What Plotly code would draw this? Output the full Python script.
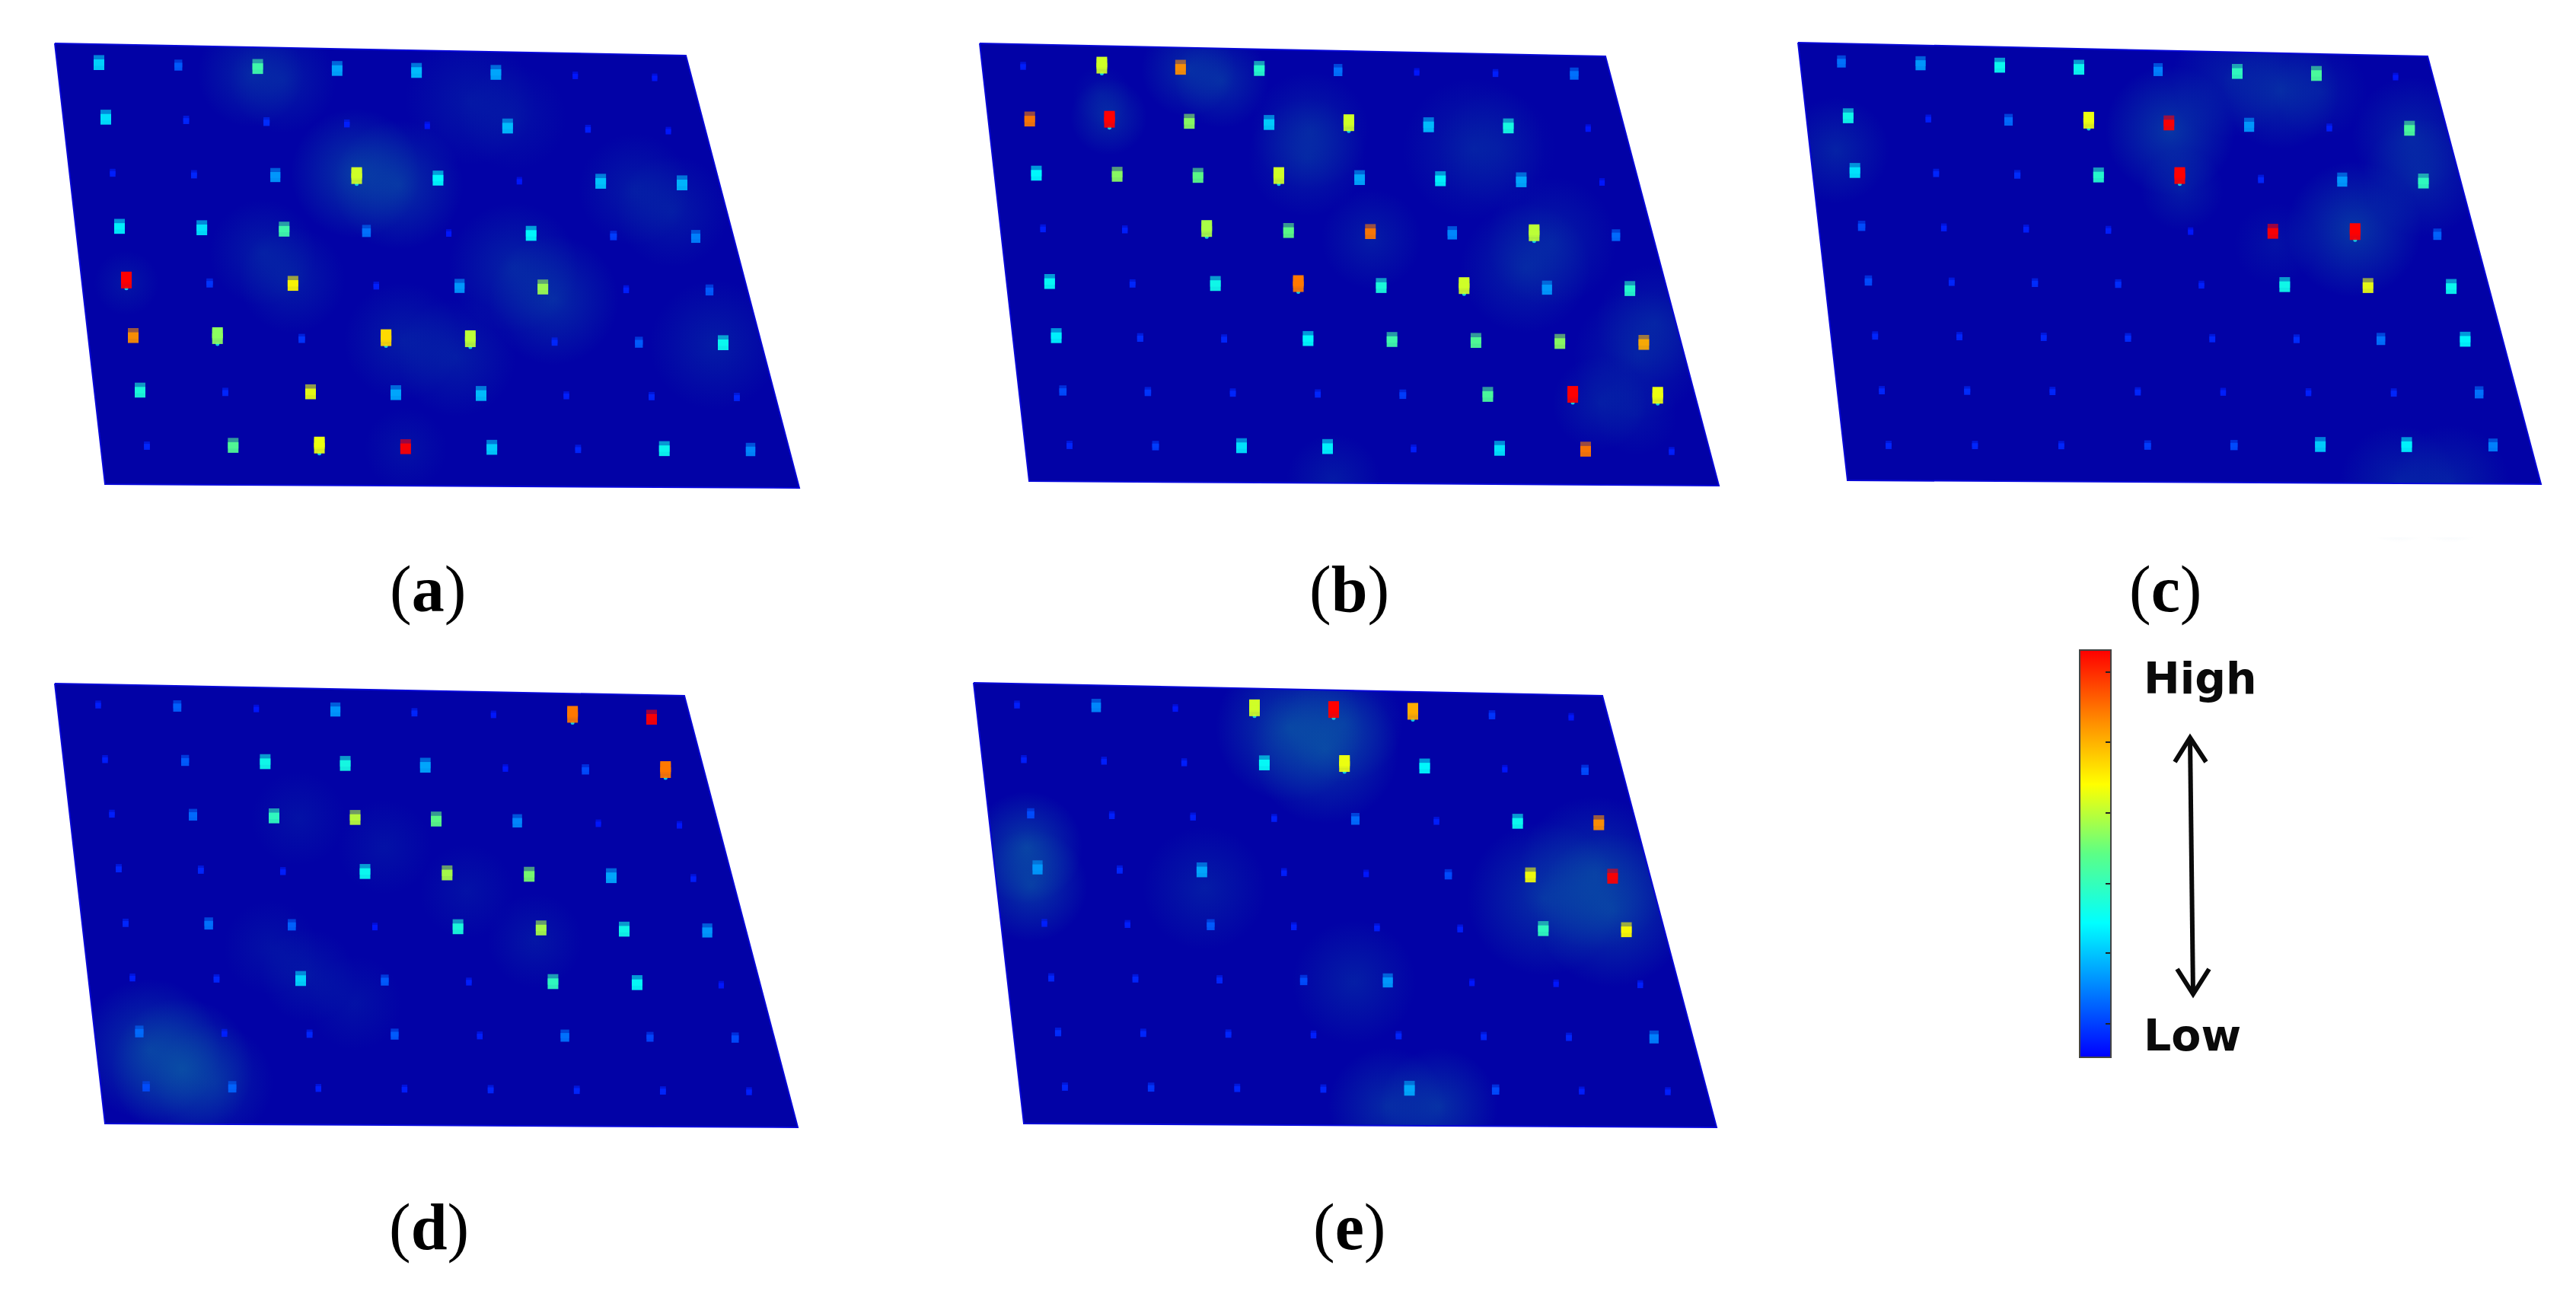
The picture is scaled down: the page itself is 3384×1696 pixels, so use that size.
"""
Five sensor-grid heat maps drawn as tilted planes, with a shared colour bar.
"""

import plotly.graph_objects as go

WIDTH = 3384
HEIGHT = 1696

# sensor readings, 8 rows of 8 (0 = low, 1 = high)
values_a = [
    [.28, .12, .45, .22, .25, .22, .03, .03],
    [.30, .05, .06, .04, .03, .25, .04, .03],
    [.04, .05, .20, .62, .33, .03, .26, .24],
    [.32, .30, .45, .15, .03, .33, .08, .17],
    [1.0, .07, .68, .04, .20, .57, .04, .12],
    [.82, .55, .07, .72, .60, .05, .12, .35],
    [.38, .05, .65, .22, .25, .04, .05, .05],
    [.05, .48, .65, 1.0, .27, .05, .35, .18],
]
values_b = [
    [.04, .62, .82, .40, .15, .03, .04, .15],
    [.85, 1.0, .55, .27, .62, .25, .37, .03],
    [.33, .55, .50, .62, .22, .32, .22, .03],
    [.04, .04, .58, .50, .85, .18, .60, .14],
    [.34, .05, .36, .85, .38, .62, .20, .40],
    [.32, .06, .05, .33, .45, .48, .55, .78],
    [.10, .07, .05, .05, .08, .47, 1.0, .65],
    [.05, .08, .30, .32, .04, .30, .85, .04],
]
values_c = [
    [.15, .20, .35, .35, .17, .42, .47, .03],
    [.36, .04, .14, .65, 1.0, .20, .04, .47],
    [.30, .05, .06, .40, 1.0, .05, .20, .42],
    [.10, .04, .04, .04, .03, 1.0, 1.0, .13],
    [.10, .05, .06, .06, .04, .36, .65, .35],
    [.05, .05, .05, .06, .05, .06, .15, .33],
    [.05, .06, .05, .05, .04, .04, .05, .15],
    [.05, .05, .05, .08, .10, .27, .32, .17],
]
values_d = [
    [.04, .13, .03, .20, .05, .03, .85, 1.0],
    [.04, .12, .36, .37, .22, .03, .10, .85],
    [.04, .14, .42, .60, .50, .18, .03, .03],
    [.05, .05, .04, .35, .58, .53, .22, .04],
    [.05, .15, .13, .03, .38, .58, .36, .20],
    [.04, .05, .28, .12, .04, .42, .34, .03],
    [.14, .04, .05, .12, .04, .15, .09, .10],
    [.10, .13, .04, .04, .05, .05, .05, .04],
]
values_e = [
    [.04, .18, .03, .62, 1.0, .78, .07, .03],
    [.04, .04, .04, .34, .65, .33, .03, .10],
    [.10, .04, .04, .04, .14, .04, .35, .82],
    [.20, .05, .22, .04, .03, .10, .66, 1.0],
    [.04, .04, .12, .04, .04, .04, .42, .67],
    [.05, .05, .05, .10, .20, .03, .03, .04],
    [.06, .05, .05, .04, .05, .05, .05, .17],
    [.05, .07, .05, .05, .22, .10, .04, .04],
]

# spots that stand taller, with a cyan foot: column, row
tall_a = [(0, 4), (3, 2), (3, 5), (4, 5), (1, 5), (2, 7)]
tall_b = [(1, 0), (1, 1), (4, 1), (3, 2), (2, 3), (6, 3), (3, 4), (5, 4), (6, 6), (7, 6)]
tall_c = [(3, 1), (4, 2), (6, 3)]
tall_d = [(6, 0), (7, 1)]
tall_e = [(3, 0), (4, 0), (5, 0), (4, 1)]

# soft background patches: column, row, diameter, strength
glows_a = [
    (1.9, .1, 90, .25), (2.3, .2, 90, .2), (4.6, .5, 110, .15), (5.1, .8, 90, .12),
    (3.0, 1.9, 110, .4), (3.5, 2.1, 110, .35), (6.4, 2.1, 95, .18), (6.8, 2.5, 95, .18),
    (1.7, 3.4, 90, .2), (2.0, 3.9, 90, .2), (4.7, 3.6, 110, .25), (5.1, 4.2, 110, .3),
    (0, 4, 55, .15), (3.2, 5, 100, .2), (3.8, 5.3, 100, .2), (6.9, 5, 110, .2), (3, 7, 70, .12),
]
glows_b = [
    (2.1, 0, 80, .3), (2.5, .2, 80, .3), (1, .9, 65, .3), (.95, .5, 50, .12),
    (3.5, 1.1, 100, .22), (3.4, 1.6, 100, .22), (5.5, 1.4, 120, .2), (5.8, 1.4, 100, .1),
    (4, 3.1, 85, .2), (5.8, 3.6, 110, .25), (6.2, 3.1, 110, .2), (6.9, 5.2, 110, .2),
    (7.2, 4.6, 100, .2), (6.3, 6.1, 80, .2), (6.7, 6.3, 70, .12), (3, 7.6, 80, .18),
]
glows_c = [
    (4.9, .1, 100, .2), (5.5, .3, 100, .3), (6, .3, 80, .15), (4, 1.1, 110, .4),
    (4, 2.2, 70, .2), (7, 1.1, 100, .25), (7, 1.9, 100, .25), (6, 2.9, 115, .4),
    (5, 3.2, 70, .12), (-.2, 1.6, 90, .25), (5.8, 7.7, 100, .22), (6.4, 7.7, 100, .22),
]
glows_d = [
    (2.3, 2, 80, .12), (3.3, 2.5, 80, .12), (4.2, 3.3, 80, .12), (4.9, 4.2, 80, .15),
    (1.7, 4.4, 80, .12), (2.1, 4.9, 80, .15), (2.6, 5.4, 80, .12),
    (.1, 6.3, 120, .4), (.45, 6.65, 120, .45), (.8, 6.9, 100, .25),
]
glows_e = [
    (3.4, .3, 125, .45), (3.8, .7, 125, .4), (4.1, .2, 100, .3), (-.1, 2.6, 95, .45),
    (-.1, 3.3, 95, .4), (2, 3.3, 105, .2), (6.1, 3.4, 130, .35), (6.8, 2.9, 130, .35),
    (6.9, 3.6, 130, .4), (3.6, 5, 105, .22), (3.7, 7.3, 100, .3), (4.3, 7.3, 100, .35),
]

panel_labels = ["a", "b", "c", "d", "e"]
bar_ticks = [.083, .257, .427, .6, .773, .946]

JET = [
    [0, "#0000ff"], [.33, "#00ffff"], [.5, "#5cff86"],
    [.67, "#ffff00"], [.82, "#ff9000"], [1, "#ff0000"],
]
PLANE_BLUE = "#0202a6"
GLOW_RGB = "13,110,165"

# plane outline (TL, TR, BR, BL) and outer sensors (TL, TR, BL, BR) on the page
panels = [
    dict(values=values_a, glows=glows_a, tall=tall_a, label=(562, 774),
         plane=[(72, 57), (901, 73), (1050, 641), (138, 636)],
         grid=[(130, 85), (860, 103), (193, 587), (986, 593)]),
    dict(values=values_b, glows=glows_b, tall=tall_b, label=(1772, 774),
         plane=[(1287, 57), (2109, 74), (2258, 638), (1352, 632)],
         grid=[(1344, 88), (2068, 99), (1405, 586), (2196, 594)]),
    dict(values=values_c, glows=glows_c, tall=tall_c, label=(2844, 774),
         plane=[(2362, 56), (3189, 74), (3338, 636), (2427, 631)],
         grid=[(2419, 83), (3147, 102), (2481, 586), (3275, 587)]),
    dict(values=values_d, glows=glows_d, tall=tall_d, label=(563, 1612),
         plane=[(72, 898), (899, 914), (1048, 1481), (138, 1476)],
         grid=[(129, 927), (856, 945), (192, 1429), (984, 1435)]),
    dict(values=values_e, glows=glows_e, tall=tall_e, label=(1772, 1612),
         plane=[(1279, 897), (2105, 914), (2255, 1481), (1345, 1476)],
         grid=[(1336, 927), (2064, 943), (1399, 1429), (2191, 1435)]),
]


def grid_to_page(grid, col, row):
    # bilinear position between the four outer sensors
    (x0, y0), (x1, y1), (x2, y2), (x3, y3) = grid
    u, v = col / 7, row / 7
    top_x, top_y = x0 + (x1 - x0) * u, y0 + (y1 - y0) * u
    bot_x, bot_y = x2 + (x3 - x2) * u, y2 + (y3 - y2) * u
    return top_x + (bot_x - top_x) * v, top_y + (bot_y - top_y) * v


def spot_size(value):
    return max(7, min(14, 6 + value * 36))


def add_panel(fig, panel, with_scale):
    plane = panel["plane"]
    xs = [p[0] for p in plane]
    ys = [p[1] for p in plane]
    fig.add_trace(go.Scatter(
        x=xs + xs[:1], y=ys + ys[:1], mode="lines", fill="toself",
        fillcolor=PLANE_BLUE, line=dict(color=PLANE_BLUE, width=1), hoverinfo="skip",
    ))

    # radial gradient colour is the centre, marker colour the rim
    glow_pos = [grid_to_page(panel["grid"], g[0], g[1]) for g in panel["glows"]]
    fig.add_trace(go.Scatter(
        x=[p[0] for p in glow_pos], y=[p[1] for p in glow_pos], mode="markers",
        marker=dict(
            size=[g[2] * 1.55 for g in panel["glows"]],
            color=f"rgba({GLOW_RGB},0)",
            gradient=dict(
                type="radial",
                color=[f"rgba({GLOW_RGB},{min(g[3] * 1.7, 1):.2f})" for g in panel["glows"]],
            ),
            line=dict(width=0),
        ),
        hoverinfo="skip",
    ))

    # white surround with a keyhole, so glows stop at the plane edge
    pad = 70
    left, right = min(xs) - pad, max(xs) + pad
    top, bottom = min(ys) - pad, max(ys) + pad
    fig.add_trace(go.Scatter(
        x=[left, right, right, left, left, xs[0], xs[3], xs[2], xs[1], xs[0], left],
        y=[top, top, bottom, bottom, top, ys[0], ys[3], ys[2], ys[1], ys[0], top],
        mode="lines", fill="toself", fillcolor="white",
        line=dict(width=0), hoverinfo="skip",
    ))
    fig.add_trace(go.Scatter(
        x=xs + xs[:1], y=ys + ys[:1], mode="lines",
        line=dict(color="#0808d8", width=2), hoverinfo="skip",
    ))

    xs_s, ys_s, vals = [], [], []
    for r, row in enumerate(panel["values"]):
        for c, v in enumerate(row):
            px, py = grid_to_page(panel["grid"], c, r)
            xs_s.append(px)
            ys_s.append(py)
            vals.append(v)
    sizes = [spot_size(v) for v in vals]

    # spots stand a little above the plane: darker top, bright front
    fig.add_trace(go.Scatter(
        x=xs_s, y=[y - s * .4 for y, s in zip(ys_s, sizes)], mode="markers",
        marker=dict(symbol="square", size=sizes, color=vals, colorscale=JET, cmin=0, cmax=1,
                    opacity=.6, line=dict(width=0)),
        hoverinfo="skip",
    ))

    # the tallest spots get an extra block on top and a small cyan foot
    tall_pos = [grid_to_page(panel["grid"], c, r) for c, r in panel["tall"]]
    tall_vals = [panel["values"][r][c] for c, r in panel["tall"]]
    fig.add_trace(go.Scatter(
        x=[p[0] for p in tall_pos], y=[p[1] - 8 for p in tall_pos], mode="markers",
        marker=dict(symbol="square", size=14, color=tall_vals, colorscale=JET, cmin=0, cmax=1,
                    line=dict(width=0)),
        hoverinfo="skip",
    ))
    fig.add_trace(go.Scatter(
        x=[p[0] for p in tall_pos], y=[p[1] + 7 for p in tall_pos], mode="markers",
        marker=dict(symbol="circle", size=5, color="#10d0e0", line=dict(width=0)),
        hoverinfo="skip",
    ))

    marker = dict(symbol="square", size=sizes, color=vals, colorscale=JET, cmin=0, cmax=1,
                  opacity=.92, line=dict(width=0))
    if with_scale:
        marker.update(showscale=True, colorbar=dict(
            x=2732 / WIDTH, xanchor="left", xpad=0,
            y=(HEIGHT - 1389) / HEIGHT, yanchor="bottom", ypad=0,
            len=535, lenmode="pixels", thickness=41, thicknessmode="pixels",
            tickmode="array", tickvals=bar_ticks, ticks="inside", ticklen=8, tickwidth=2,
            tickcolor="#222222", showticklabels=False,
            outlinecolor="#444444", outlinewidth=2, borderwidth=0,
        ))
    fig.add_trace(go.Scatter(x=xs_s, y=ys_s, mode="markers", marker=marker, hoverinfo="skip"))


fig = go.Figure()
for i, panel in enumerate(panels):
    add_panel(fig, panel, i == 0)
    fig.add_annotation(
        x=panel["label"][0], y=panel["label"][1], text=f"(<b>{panel_labels[i]}</b>)",
        showarrow=False, font=dict(family="Liberation Serif", size=86, color="black"),
    )

# left-hand ticks of the colour bar, the right-hand ones come from the bar itself
BAR_TOP, BAR_BOTTOM = 854, 1389
for t in bar_ticks:
    tick_y = BAR_BOTTOM - t * (BAR_BOTTOM - BAR_TOP)
    fig.add_trace(go.Scatter(
        x=[2732, 2740], y=[tick_y, tick_y], mode="lines",
        line=dict(color="#222222", width=2), hoverinfo="skip",
    ))

# double-headed arrow next to the bar
arrow_x = [2877, 2881, None, 2857, 2877, 2898, None, 2860, 2881, 2902]
arrow_y = [969, 1306, None, 1001, 969, 1001, None, 1273, 1306, 1273]
fig.add_trace(go.Scatter(
    x=arrow_x, y=arrow_y, mode="lines", line=dict(color="#0a0a0a", width=6), hoverinfo="skip",
))

for text, x, y in [("High", 2890, 891), ("Low", 2880, 1360)]:
    fig.add_annotation(
        x=x, y=y, text=f"<b>{text}</b>", showarrow=False,
        font=dict(family="DejaVu Sans", size=57, color="#0a0a0a"),
    )

fig.update_layout(
    width=WIDTH,
    height=HEIGHT,
    margin=dict(l=0, r=0, t=0, b=0),
    paper_bgcolor="white",
    plot_bgcolor="white",
    showlegend=False,
    xaxis=dict(range=[0, WIDTH], visible=False, fixedrange=True),
    yaxis=dict(range=[HEIGHT, 0], visible=False, fixedrange=True),
)

fig.write_html(
    "out.html",
    config={"displayModeBar": False},
    post_script="document.body.style.margin='0';",
)
